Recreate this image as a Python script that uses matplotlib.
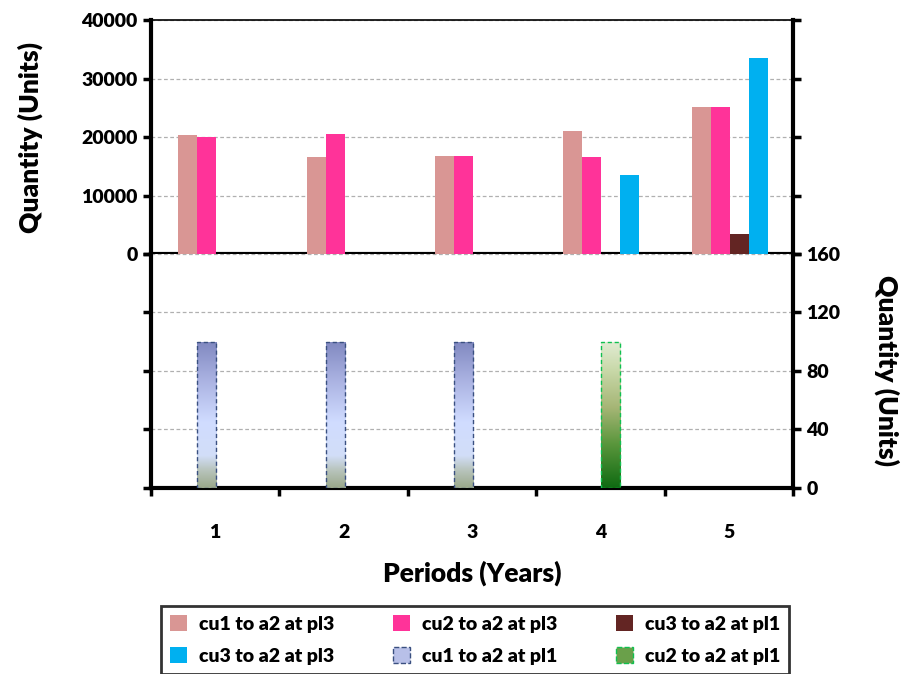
import matplotlib.pyplot as plt
import numpy as np
from matplotlib.colors import LinearSegmentedColormap
from matplotlib.patches import Patch

plt.rcParams['font.family'] = ['Lato', 'DejaVu Sans']
plt.rcParams['font.weight'] = 'bold'

periods = ['1', '2', '3', '4', '5']
cu1_pl3 = [20400, 16600, 16800, 21000, 25100]
cu2_pl3 = [20000, 20600, 16800, 16600, 25100]
cu3_pl1 = [0, 0, 0, 0, 3400]
cu3_pl3 = [0, 0, 0, 13500, 33500]
cu1_pl1 = [100, 100, 100, 0, 0]
cu2_pl1 = [0, 0, 0, 100, 0]

fig = plt.figure(figsize=(9.1, 6.74), dpi=100)
ax1 = fig.add_axes([0.1659, 0.6231, 0.7055, 0.3472])
ax2 = fig.add_axes([0.1659, 0.2760, 0.7055, 0.3472])

x = np.arange(len(periods))
w = 0.148
offs = [-0.214, -0.066, 0.082, 0.230]

ax1.bar(x + offs[0], cu1_pl3, w, color='#D99694', zorder=3)
ax1.bar(x + offs[1], cu2_pl3, w, color='#FF3399', zorder=3)
ax1.bar(x + offs[2], cu3_pl1, w, color='#632523', zorder=3)
ax1.bar(x + offs[3], cu3_pl3, w, color='#00B0F0', zorder=3)

cmap_blue = LinearSegmentedColormap.from_list(
    'b', [(0, '#9aa88a'), (0.12, '#b8c4bc'), (0.22, '#d2def8'), (0.45, '#d0dcff'),
          (0.75, '#a8b0e0'), (1, '#8088c0')])
cmap_green = LinearSegmentedColormap.from_list(
    'g', [(0, '#0f6a12'), (0.3, '#5a963c'), (0.55, '#a6b676'), (0.8, '#c8d8a8'), (1, '#e2ecd4')])


def grad_bars(ax, xs, vals, cmap, edge):
    for xi, v in zip(xs, vals):
        if v <= 0:
            continue
        bar = ax.bar(xi, v, w, facecolor='none', edgecolor=edge, linestyle=(0, (3, 2)),
                     linewidth=1.0, zorder=4)[0]
        grad = np.linspace(0, 1, 256).reshape(-1, 1)
        im = ax.imshow(grad, cmap=cmap, origin='lower', aspect='auto',
                       extent=[xi - w / 2, xi + w / 2, 0, v], zorder=3)
        im.set_clip_path(bar)


grad_bars(ax2, x + offs[1], cu1_pl1, cmap_blue, '#3a5080')
grad_bars(ax2, x + offs[2], cu2_pl1, cmap_green, '#10c050')

for ax in (ax1, ax2):
    ax.set_xlim(-0.5, 4.5)
    ax.grid(axis='y', color='#b0b0b0', linestyle=(0, (3, 2)), linewidth=0.9, zorder=0)
    for s in ('left', 'right', 'bottom'):
        ax.spines[s].set_linewidth(3)
    ax.tick_params(axis='both', which='major', width=2.5, length=6, direction='out',
                   labelsize=14)

ax1.set_ylim(0, 40000)
ax1.set_yticks([0, 10000, 20000, 30000, 40000])
ax1.spines['top'].set_linewidth(1.2)
ax1.tick_params(axis='y', right=True, labelright=False)
ax1.set_xticks([])
ax1.set_ylabel('Quantity (Units)', fontsize=19, fontweight='heavy')
ax1.yaxis.set_label_coords(-0.168, 0.5)

ax2.set_ylim(0, 160)
ax2.set_yticks([0, 40, 80, 120, 160])
ax2.spines['top'].set_visible(False)
ax2.tick_params(axis='y', left=True, labelleft=False, right=True, labelright=True)
ax2.set_xticks(np.arange(-0.5, 5.0, 1.0))
ax2.set_xticklabels([])
ax2.set_xticks(x, minor=True)
ax2.set_xticklabels(periods, minor=True)
ax2.tick_params(axis='x', which='minor', length=0, pad=26, labelsize=14)
ax2.yaxis.set_label_position('right')
ax2.set_ylabel('Quantity (Units)', fontsize=19, fontweight='heavy', rotation=-90)
ax2.yaxis.set_label_coords(1.166, 0.5)
ax2.set_xlabel('Periods (Years)', fontsize=19, fontweight='heavy', labelpad=14)

for ax in (ax1, ax2):
    for lab in ax.get_xticklabels(which='both') + ax.get_yticklabels():
        lab.set_fontweight('heavy')

handles = [
    Patch(facecolor='#D99694', label='cu1 to a2 at pl3'),
    Patch(facecolor='#00B0F0', label='cu3 to a2 at pl3'),
    Patch(facecolor='#FF3399', label='cu2 to a2 at pl3'),
    Patch(facecolor='#b8c0e8', edgecolor='#3a5080', linestyle='--', label='cu1 to a2 at pl1'),
    Patch(facecolor='#632523', label='cu3 to a2 at pl1'),
    Patch(facecolor='#6aa04a', edgecolor='#10c050', linestyle='--', label='cu2 to a2 at pl1'),
]
leg = fig.legend(handles=handles, ncol=3, loc='center', bbox_to_anchor=(475 / 910, 1 - 640 / 674),
                 prop={'size': 14, 'weight': 'heavy'}, frameon=True, fancybox=False,
                 edgecolor='black', handlelength=0.9, handleheight=0.9, columnspacing=3.0,
                 handletextpad=0.6, borderpad=0.45, labelspacing=0.75)
leg.get_frame().set_linewidth(2)

fig.savefig('out.png', dpi=100)
